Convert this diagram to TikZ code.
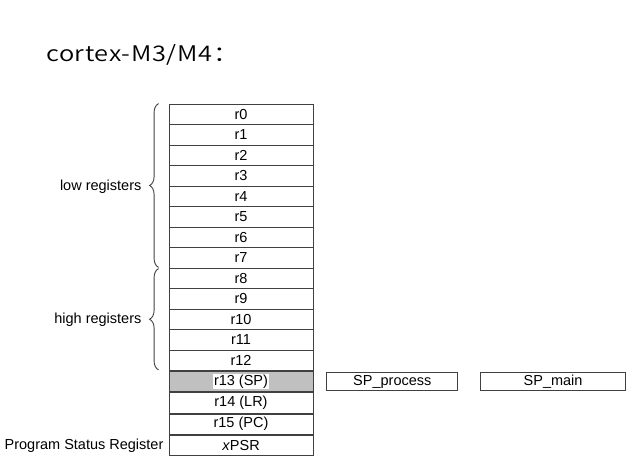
\documentclass[tikz,border=0pt]{standalone}
\usepackage{fontspec}
\setmainfont{Liberation Sans}
\newfontfamily\titlefont[FakeStretch=1.18, LetterSpace=3]{Noto Sans CJK SC DemiLight}
\usetikzlibrary{positioning,decorations.pathreplacing}
\definecolor{linegray}{RGB}{64,64,64}
\definecolor{spgray}{RGB}{192,192,192}
\tikzset{
  reg/.style={draw=linegray, line width=0.8pt, minimum width=144pt, minimum height=20.5pt, inner sep=0pt, font=\fontsize{14.5}{16}\selectfont},
  spbox/.style={draw=linegray, line width=0.8pt, minimum height=18pt, inner sep=0pt, font=\fontsize{14.5}{16}\selectfont},
  lbl/.style={inner sep=0pt, font=\fontsize{14.5}{16}\selectfont},
  brc/.style={draw=linegray, line width=0.9pt, decorate, decoration={brace, amplitude=9pt}}
}

\begin{document}
\begin{tikzpicture}[x=1pt, y=1pt]
  \useasboundingbox (0,0) rectangle (635,475);
  \node[anchor=base west, inner sep=0pt, font=\titlefont\fontsize{21.5}{26}\selectfont] (title) at (46,413) {cortex-M3/M4：};
  % register column
  \foreach \i in {0,...,12}{
    \node[reg] (r\i) at (241,360.75-20.5*\i) {r\i};
  }
  \node[reg, fill=spgray, below=0pt of r12] (r13) {};
  \node[lbl, fill=white, inner sep=0.6pt] (r13txt) at (r13) {r13 (SP)};
  \node[reg, below=0pt of r13] (r14) {r14 (LR)};
  \node[reg, below=0pt of r14] (r15) {r15 (PC)};
  \node[reg, below=0pt of r15] (xpsr) {\textit{x}PSR};
  % banked stack pointers
  \node[spbox, minimum width=131pt, right=13pt of r13] (spproc) {SP\_process};
  \node[spbox, minimum width=145pt, right=22pt of spproc] (spmain) {SP\_main};
  % braces
  \draw[brc] ([xshift=-10pt, yshift=1pt]r7.south west) -- ([xshift=-10pt]r0.north west);
  \draw[brc] ([xshift=-10pt, yshift=1pt]r12.south west) -- ([xshift=-10pt, yshift=-1pt]r8.north west);
  \node[lbl, anchor=east] (low) at ([xshift=-27pt]r3.south west) {low registers};
  \node[lbl, anchor=east] (high) at ([xshift=-27pt]r10.west) {high registers};
  \node[lbl, anchor=east] (psr) at ([xshift=-5pt]xpsr.west) {Program Status Register};
\end{tikzpicture}
\end{document}
